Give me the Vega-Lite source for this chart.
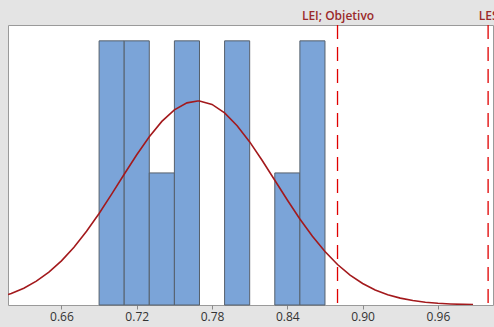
{
  "$schema": "https://vega.github.io/schema/vega-lite/v6.json",
  "width": 485,
  "height": 280,
  "autosize": {"type": "none"},
  "padding": {"left": 8, "top": 25, "right": 1, "bottom": 22},
  "background": "#e4e4e4",
  "view": {"fill": "#ffffff", "stroke": "#9a9a9a", "strokeWidth": 1},
  "datasets": {
    "bins": [
      {"lo": 0.69, "hi": 0.71, "count": 2},
      {"lo": 0.71, "hi": 0.73, "count": 2},
      {"lo": 0.73, "hi": 0.75, "count": 1},
      {"lo": 0.75, "hi": 0.77, "count": 2},
      {"lo": 0.79, "hi": 0.81, "count": 2},
      {"lo": 0.83, "hi": 0.85, "count": 1},
      {"lo": 0.85, "hi": 0.87, "count": 2}
    ],
    "curve": [
      {"x": 0.6174, "y": 0.0793}, {"x": 0.62, "y": 0.0878}, {"x": 0.63, "y": 0.1275},
      {"x": 0.64, "y": 0.1803}, {"x": 0.65, "y": 0.2488}, {"x": 0.66, "y": 0.3342},
      {"x": 0.67, "y": 0.4374}, {"x": 0.68, "y": 0.5578}, {"x": 0.69, "y": 0.6932},
      {"x": 0.70, "y": 0.8393}, {"x": 0.71, "y": 0.9899}, {"x": 0.72, "y": 1.1379},
      {"x": 0.73, "y": 1.2742}, {"x": 0.74, "y": 1.3902}, {"x": 0.75, "y": 1.4778},
      {"x": 0.76, "y": 1.5305}, {"x": 0.7685, "y": 1.545}, {"x": 0.77, "y": 1.5445},
      {"x": 0.78, "y": 1.5186}, {"x": 0.79, "y": 1.4549}, {"x": 0.80, "y": 1.3579},
      {"x": 0.81, "y": 1.2349}, {"x": 0.82, "y": 1.0942}, {"x": 0.83, "y": 0.9446},
      {"x": 0.84, "y": 0.7946}, {"x": 0.85, "y": 0.6512}, {"x": 0.86, "y": 0.52},
      {"x": 0.87, "y": 0.4046}, {"x": 0.88, "y": 0.3067}, {"x": 0.89, "y": 0.2265},
      {"x": 0.90, "y": 0.163}, {"x": 0.91, "y": 0.1143}, {"x": 0.92, "y": 0.078},
      {"x": 0.93, "y": 0.0519}, {"x": 0.94, "y": 0.0337}, {"x": 0.95, "y": 0.0213},
      {"x": 0.96, "y": 0.0131}, {"x": 0.97, "y": 0.0079}, {"x": 0.98, "y": 0.0046},
      {"x": 0.988, "y": 0.003}
    ],
    "limits": [
      {"x": 0.88, "label": "LEI; Objetivo"},
      {"x": 1.0, "label": "LES"}
    ]
  },
  "layer": [
    {
      "data": {"name": "bins"},
      "mark": {"type": "rect", "fill": "#7ba4d8", "stroke": "#56606c", "strokeWidth": 1},
      "encoding": {
        "x": {
          "field": "lo", "type": "quantitative",
          "scale": {"domain": [0.6174, 1.0039], "nice": false, "zero": false},
          "axis": {
            "values": [0.66, 0.72, 0.78, 0.84, 0.90, 0.96],
            "format": ".2f", "title": null, "grid": false, "domain": false,
            "tickColor": "#8a8a8a", "tickSize": 4,
            "labelFont": "Open Sans", "labelFontSize": 12, "labelColor": "#333333",
            "labelPadding": 2, "labelFlush": false
          }
        },
        "x2": {"field": "hi"},
        "y": {"field": "count", "type": "quantitative",
              "scale": {"domain": [0, 2.12], "nice": false}, "axis": null},
        "y2": {"datum": 0}
      }
    },
    {
      "data": {"name": "curve"},
      "mark": {"type": "line", "color": "#a3191c", "strokeWidth": 1.6, "clip": true},
      "encoding": {
        "x": {"field": "x", "type": "quantitative", "axis": null},
        "y": {"field": "y", "type": "quantitative", "axis": null}
      }
    },
    {
      "data": {"name": "limits"},
      "mark": {"type": "rule", "color": "#e00000", "strokeWidth": 1.3, "strokeDash": [14, 8]},
      "encoding": {
        "x": {
          "field": "x", "type": "quantitative",
          "axis": {
            "orient": "top", "values": [0.88, 1.0], "title": null, "grid": false,
            "domain": false, "ticks": false, "labelFlush": false, "labelOverlap": false, "labelBound": false,
            "labelExpr": "datum.value < 0.95 ? 'LEI; Objetivo' : 'LES'",
            "labelFont": "Open Sans", "labelFontSize": 12, "labelFontWeight": 600,
            "labelColor": "#9b2a2a", "labelPadding": 3
          }
        }
      }
    }
  ],
  "resolve": {"axis": {"x": "independent"}}
}
